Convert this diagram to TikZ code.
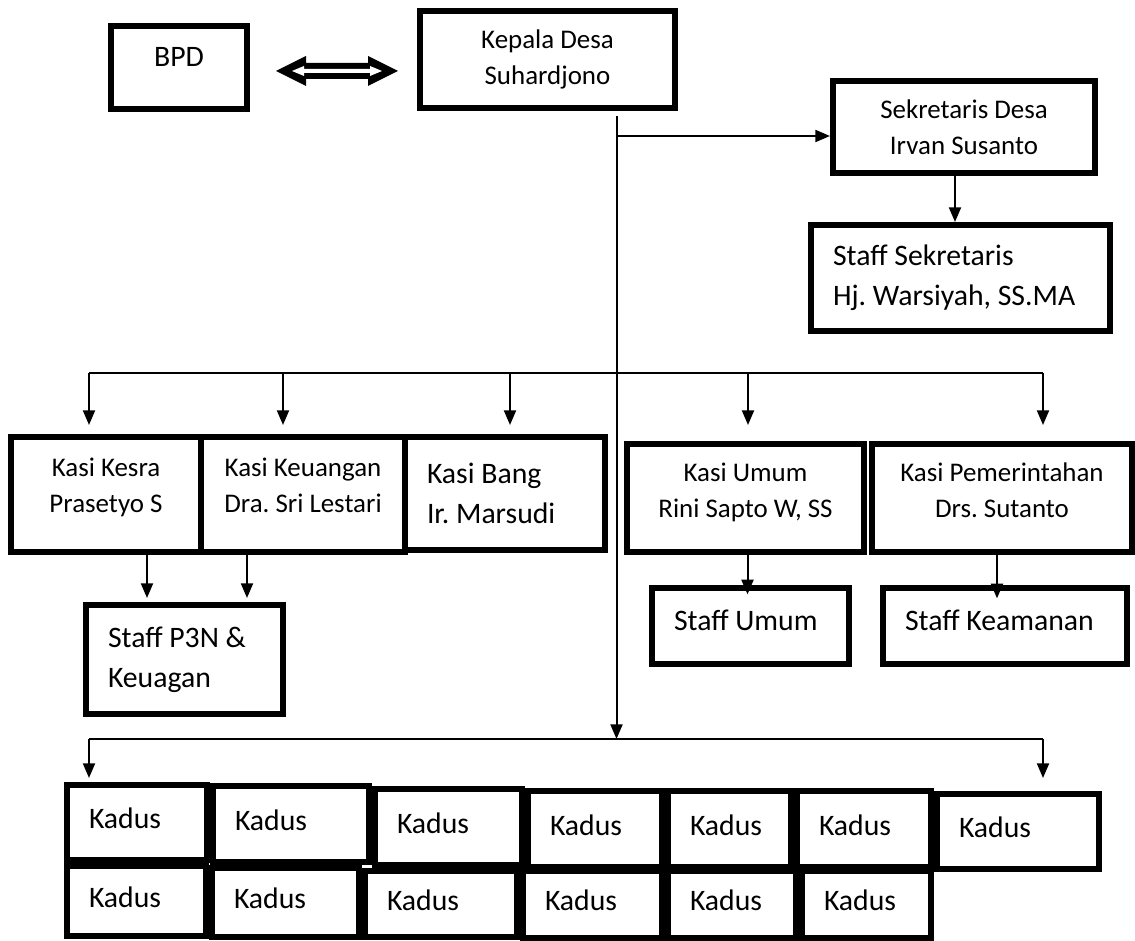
\documentclass[tikz,border=0pt]{standalone}
\usepackage{fontspec}
\setmainfont{Carlito}
\usetikzlibrary{arrows.meta,calc}
\tikzset{
  orgbox/.style = {rectangle, draw, fill=white, line width=4.5pt, inner sep=0pt, align=center, font=\fontsize{20.2}{27}\selectfont},
  bigfont/.style = {font=\fontsize{22.3}{30}\selectfont},
  boxsize/.style 2 args = {minimum width=(#1-6)*0.75pt, minimum height=(#2-6)*0.75pt},
  lefttext/.style = {text width=(#1-50)*0.75pt, inner xsep=16.5pt, align=flush left},
  orgline/.style = {line width=1.5pt},
  orgarrow/.style = {-{Triangle[length=11pt,width=9pt]}, line width=1.5pt},
}
\frenchspacing

\begin{document}
\begin{tikzpicture}[x=0.75pt, y=-0.75pt]
\useasboundingbox (0,0) rectangle (1135,941);
% kepala desa, bpd, sekretaris
\node[orgbox, bigfont, boxsize={142}{89}, text depth=16.5pt] (bpd) at (179,67.5) {BPD};
\node[orgbox, boxsize={261}{103}] (kades) at (547.5,59.5) {Kepala Desa\\Suhardjono};
\node[orgbox, boxsize={268}{98}] (sekdes) at (964,127) {Sekretaris Desa\\Irvan Susanto};
\node[orgbox, bigfont, boxsize={305}{112}, lefttext=305] (staffsek) at (960.5,278) {Staff~Sekretaris\\Hj.~Warsiyah,~SS.MA};
% kasi
\node[orgbox, boxsize={196}{121}, text depth=14pt] (kesra) at (106,494.5) {Kasi Kesra\\Prasetyo S};
\node[orgbox, boxsize={210}{121}, text depth=14pt] (keu) at (303,494.5) {Kasi Keuangan\\Dra. Sri Lestari};
\node[orgbox, bigfont, boxsize={206}{119}, lefttext=206] (bang) at (505,493.5) {Kasi~Bang\\Ir.~Marsudi};
\node[orgbox, boxsize={243}{114}, text depth=12pt] (kumum) at (745.5,498) {Kasi Umum\\Rini Sapto W, SS};
\node[orgbox, boxsize={266}{114}, text depth=12pt] (kpem) at (1002,498) {Kasi Pemerintahan\\Drs. Sutanto};
% staff
\node[orgbox, bigfont, boxsize={203}{115}, lefttext=203] (sp3n) at (184.5,659.5) {Staff~P3N~\&\\Keuagan};
\node[orgbox, bigfont, boxsize={203}{82}, lefttext=203, text depth=9pt] (sumum) at (750.5,626) {Staff~Umum};
\node[orgbox, bigfont, boxsize={250}{82}, lefttext=250, text depth=9pt] (skeam) at (1005,626) {Staff~Keamanan};
% kadus
\foreach \k/\xl/\xr/\yt/\yb in {k1/64/210/782/863, k2/210/372/783/865, k3/372/525/786/868,
    k4/525/665/788/870, k5/665/794/788/870, k6/794/934/788/870, k7/934/1102/791/872,
    k8/64/209/863/939, k9/209/362/865/940, k10/362/520/868/940,
    k11/520/665/868/941, k12/665/799/868/941, k13/799/934/868/941}
  \node[orgbox, bigfont, boxsize={\xr-\xl}{\yb-\yt}, lefttext={\xr-\xl}, text depth=6pt] (\k) at ({(\xl+\xr)/2},{(\yt+\yb)/2}) {Kadus};

% bpd <-> kepala desa
\coordinate (dbl) at ($(bpd.east)!0.5!(kades.west)+(3.5,7.5)$);
\fill ($(dbl)+(-61,0)$) -- ++(30,-15) -- ++(0,7) -- ++(62,0) -- ++(0,-7)
  -- ++(30,15) -- ++(-30,15) -- ++(0,-7) -- ++(-62,0) -- ++(0,7) -- cycle;
\fill[white] ($(dbl)+(-45,0)$) -- ++(12,-5) -- ++(0,3) -- ++(66,0) -- ++(0,-3)
  -- ++(12,5) -- ++(-12,5) -- ++(0,-3) -- ++(-66,0) -- ++(0,3) -- cycle;

% garis utama
\coordinate (ktop) at ([shift={(69,5)}]kades.south);
\coordinate (sbusL) at (89,373);
\coordinate (sbusR) at (1043,373);
\coordinate (kbusL) at (89,739);
\coordinate (kbusR) at (1043,739);
\draw[orgline] (sbusL) -- (sbusR);
\draw[orgline] (kbusL) -- (kbusR);
\draw[orgarrow] (ktop) -- (ktop |- kbusL);

\coordinate (sekin) at ([shift={(0,9)}]sekdes.west);
\draw[orgarrow] (sekin -| ktop) -- (sekin);
\coordinate (sekout) at ([shift={(-9,0)}]sekdes.south);
\draw[orgarrow] (sekout) -- (sekout |- staffsek.north);

% ke kasi
\foreach \d/\x/\b/\s in {d1/89/kesra/9, d2/283/keu/9, d3/510/bang/9, d4/748/kumum/16, d5/1043/kpem/16} {
  \coordinate (\d) at (\x,373);
  \draw[orgarrow, shorten >=\s*0.75pt] (\d) -- (\d |- \b.north);
}

% kasi ke staff
\coordinate (kesout) at ([shift={(41,0)}]kesra.south);
\coordinate (keuout) at ([shift={(-56,0)}]keu.south);
\draw[orgarrow, shorten >=3pt] (kesout) -- (kesout |- sp3n.north);
\draw[orgarrow, shorten >=3pt] (keuout) -- (keuout |- sp3n.north);
\coordinate (umout) at ([shift={(2,0)}]kumum.south);
\coordinate (pemout) at ([shift={(-5,0)}]kpem.south);
\draw[orgarrow, shorten >=-7pt] (umout) -- (umout |- sumum.north);
\draw[orgarrow, shorten >=-10pt] (pemout) -- (pemout |- skeam.north);

% ke kadus
\draw[orgarrow, shorten >=3pt] (kbusL) -- (kbusL |- k1.north);
\draw[orgarrow, shorten >=9.75pt] (kbusR) -- (kbusR |- k7.north);
\end{tikzpicture}
\end{document}
